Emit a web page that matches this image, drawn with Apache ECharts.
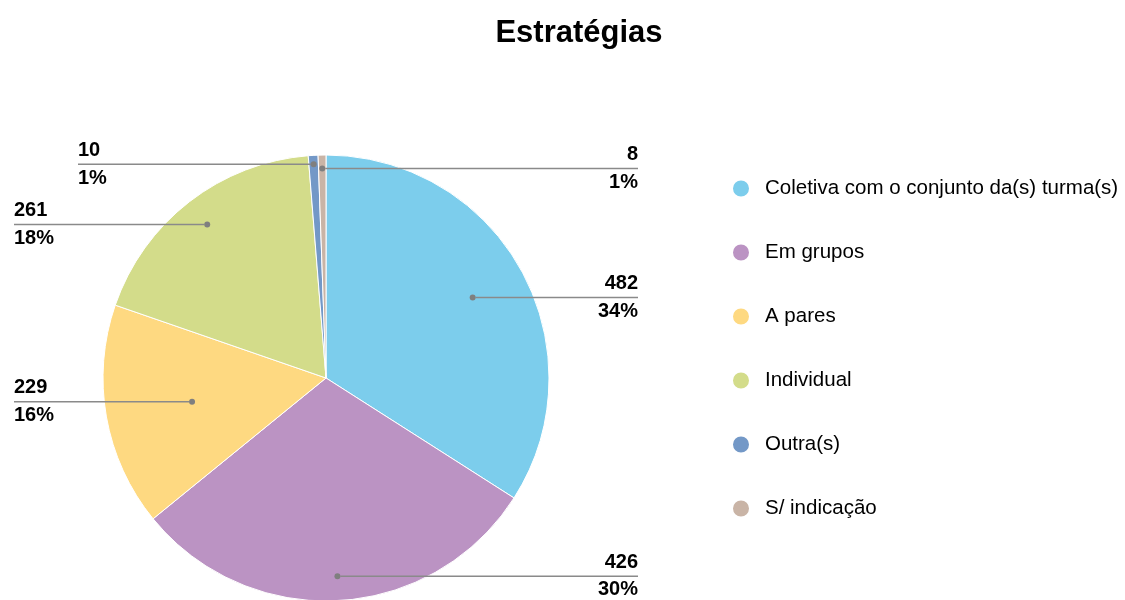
<!DOCTYPE html>
<html>
<head>
<meta charset="utf-8">
<title>Estratégias</title>
<script src="https://cdn.jsdelivr.net/npm/echarts@6/dist/echarts.min.js"></script>
<style>
  html, body { margin: 0; padding: 0; background: #fff; }
  #chart { width: 1125px; height: 600px; }
</style>
</head>
<body>
<div id="chart"></div>
<script>
var categories = ['Coletiva com o conjunto da(s) turma(s)', 'Em grupos', 'A pares', 'Individual', 'Outra(s)', 'S/ indicação'];
var values = [482, 426, 229, 261, 10, 8];
var colors = ['#7ccdec', '#bb93c3', '#fed981', '#d3dc8a', '#7398c7', '#c9b4a6'];
// label placement: side, how far out (share of radius) the leader starts, inset from the edge
var labelSide = ['right', 'right', 'left', 'left', 'left', 'right'];
var anchorRadius = [0.75, 0.89, 0.61, 0.87, 0.96, 0.94];
var labelInset = [0, 0, 0, 0, 64, 0];

var total = values.reduce(function (a, b) { return a + b; }, 0);
var anchors = [];
var cum = 0;
values.forEach(function (v, i) {
    anchors.push([anchorRadius[i], cum + v / 2]);
    cum += v;
});

var font = 'Liberation Sans';
var pieCenter = [326, 378];
var pieRadius = 223;
var lineColor = '#8a8a8a';

var chart = echarts.init(document.getElementById('chart'));
chart.setOption({
    animation: false,
    title: {
        text: 'Estratégias',
        left: 579,
        top: 18,
        textAlign: 'center',
        padding: 0,
        textStyle: { fontFamily: font, fontSize: 31, fontWeight: 'bold', color: '#000' }
    },
    legend: {
        orient: 'vertical',
        left: 731,
        top: 178,
        padding: 0,
        icon: 'circle',
        itemWidth: 18,
        itemHeight: 18,
        itemGap: 43,
        data: categories,
        textStyle: { fontFamily: font, fontSize: 20.5, color: '#000', padding: [0, 0, 0, 10] }
    },
    polar: { center: pieCenter, radius: pieRadius },
    angleAxis: { type: 'value', min: 0, max: total, startAngle: 90, clockwise: true, show: false },
    radiusAxis: { type: 'value', min: 0, max: 1, show: false },
    series: [
        {
            type: 'pie',
            center: pieCenter,
            radius: pieRadius,
            startAngle: 90,
            clockwise: true,
            avoidLabelOverlap: false,
            label: { show: false },
            labelLine: { show: false },
            itemStyle: { borderColor: '#fff', borderWidth: 1 },
            emphasis: { disabled: true },
            data: categories.map(function (c, i) {
                return { name: c, value: values[i], itemStyle: { color: colors[i] } };
            })
        },
        {
            type: 'scatter',
            name: 'rótulos',
            coordinateSystem: 'polar',
            z: 5,
            symbol: 'circle',
            symbolSize: 6,
            itemStyle: { color: '#7f7f7f', opacity: 1 },
            silent: true,
            data: anchors,
            label: {
                show: true,
                distance: 0,
                color: '#000',
                opacity: 1,
                textBorderWidth: 0,
                formatter: function (p) {
                    var i = p.dataIndex;
                    return '{v|' + values[i] + '}\n{l|}\n{p|' + Math.round(values[i] / total * 100) + '%}';
                },
                rich: {
                    v: { fontFamily: font, fontSize: 20, fontWeight: 'bold', color: '#000', height: 26, lineHeight: 26, verticalAlign: 'bottom' },
                    l: { width: 42, height: 1.5, lineHeight: 1.5, backgroundColor: lineColor },
                    p: { fontFamily: font, fontSize: 20, fontWeight: 'bold', color: '#000', height: 26, lineHeight: 26, verticalAlign: 'top' }
                }
            },
            labelLine: { show: true, lineStyle: { color: lineColor, width: 1.5, opacity: 1 } },
            labelLayout: function (p) {
                var i = p.dataIndex;
                var x0 = p.rect.x + p.rect.width / 2;
                var y0 = p.rect.y + p.rect.height / 2;
                var right = labelSide[i] === 'right';
                var xe = right ? 638 - labelInset[i] : 14 + labelInset[i];
                return {
                    x: xe,
                    y: y0,
                    align: right ? 'right' : 'left',
                    verticalAlign: 'middle',
                    labelLinePoints: [[x0, y0], [(x0 + xe) / 2, y0], [xe, y0]]
                };
            }
        }
    ]
});
</script>
</body>
</html>
